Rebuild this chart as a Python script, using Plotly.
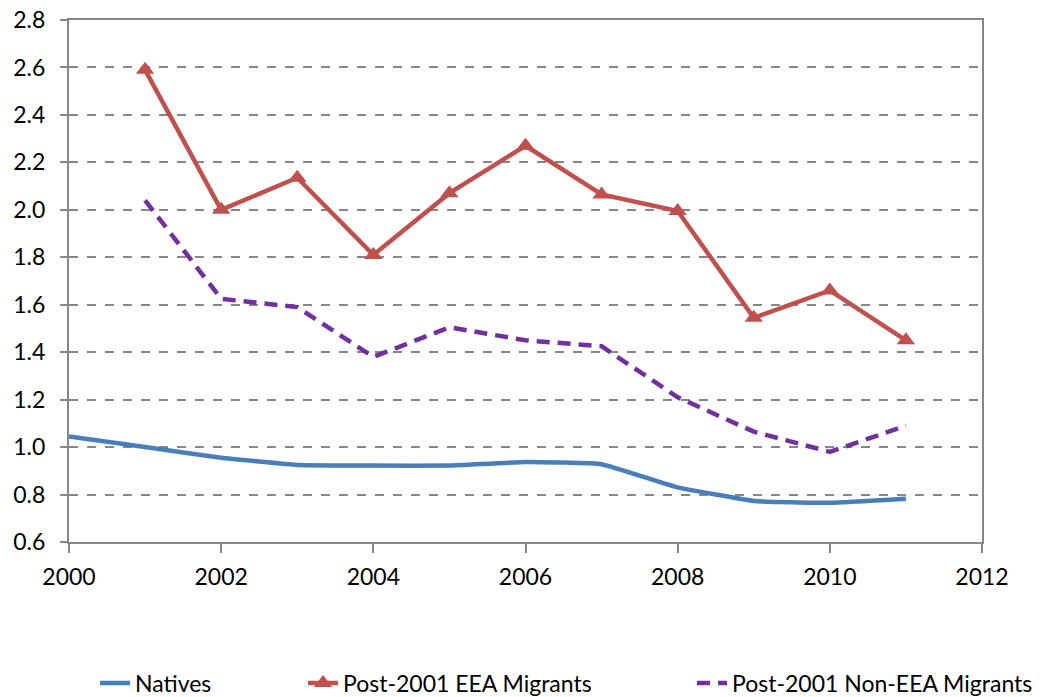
import plotly.graph_objects as go

years_nat = [2000, 2001, 2002, 2003, 2004, 2005, 2006, 2007, 2008, 2009, 2010, 2011]
natives = [1.045, 1.0, 0.955, 0.925, 0.922, 0.922, 0.937, 0.928, 0.83, 0.773, 0.765, 0.782]

years_mig = [2001, 2002, 2003, 2004, 2005, 2006, 2007, 2008, 2009, 2010, 2011]
eea = [2.59, 2.0, 2.135, 1.81, 2.07, 2.27, 2.065, 1.995, 1.545, 1.66, 1.45]
non_eea = [2.04, 1.625, 1.59, 1.38, 1.505, 1.45, 1.425, 1.21, 1.065, 0.98, 1.09]

x_ticks = [2000, 2002, 2004, 2006, 2008, 2010, 2012]
y_ticks = [0.6, 0.8, 1.0, 1.2, 1.4, 1.6, 1.8, 2.0, 2.2, 2.4, 2.6, 2.8]

FONT = "Lato, Open Sans, sans-serif"
GRID = "#868686"

fig = go.Figure()
fig.add_trace(go.Scatter(
    x=years_nat, y=natives, name="Natives", mode="lines",
    line=dict(color="#4A7EBB", width=4.5, shape="spline", smoothing=0.3),
    legend="legend",
))
fig.add_trace(go.Scatter(
    x=years_mig, y=eea, name="Post-2001 EEA Migrants", mode="lines+markers",
    line=dict(color="#C0504D", width=4.5),
    marker=dict(symbol="triangle-up", size=16, color="#C0504D"),
    legend="legend2",
))
fig.add_trace(go.Scatter(
    x=years_mig, y=non_eea, name="Post-2001 Non-EEA Migrants", mode="lines",
    line=dict(color="#7030A0", width=4.5, dash="13px,8px"),
    legend="legend3",
))

def leg(xpx):
    return dict(orientation="h", x=(xpx - 69) / 913, xanchor="left",
                yref="container", y=0.02, yanchor="middle",
                font=dict(size=23), bgcolor="rgba(0,0,0,0)")

fig.update_layout(
    width=1049, height=697,
    margin=dict(l=69, r=67, t=20, b=155),
    paper_bgcolor="white", plot_bgcolor="white",
    font=dict(family=FONT, size=23, color="black"),
    showlegend=True,
    legend=leg(95), legend2=leg(303), legend3=leg(692),
)
fig.update_xaxes(
    range=[2000, 2012], tickvals=x_ticks, ticktext=[str(v) for v in x_ticks],
    showgrid=False, showline=True, linecolor=GRID, linewidth=2, mirror=True,
    ticks="outside", ticklen=9, tickcolor=GRID, tickwidth=2, zeroline=False,
    tickfont=dict(size=23), ticklabelstandoff=4, automargin=False,
)
fig.update_yaxes(
    range=[0.6, 2.8], tickvals=y_ticks, ticktext=[f"{v:.1f}" for v in y_ticks],
    showgrid=True, gridcolor=GRID, griddash="dash", gridwidth=1.5,
    showline=True, linecolor=GRID, linewidth=2, mirror=True,
    ticks="outside", ticklen=7, tickcolor=GRID, tickwidth=2, zeroline=False,
    tickfont=dict(size=23), ticklabelstandoff=10, automargin=False,
)

fig.write_html("out.html")
